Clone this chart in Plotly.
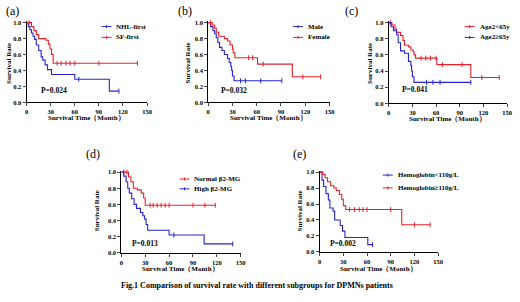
import numpy as np
import plotly.graph_objects as go

# ---------------- data ----------------
# Panel (a)
a_nhl_t = [0, 2, 4, 6, 8, 10, 12, 15, 18, 20, 23, 26, 31, 60, 103, 115]
a_nhl_s = [1.0, 0.95, 0.91, 0.87, 0.83, 0.79, 0.72, 0.65, 0.57, 0.53, 0.47, 0.41, 0.35, 0.29, 0.14, 0.14]
a_nhl_c = [65, 115]
a_sf_t = [0, 6, 9, 12, 15, 24, 27, 29, 31, 33, 138]
a_sf_s = [1.0, 0.95, 0.90, 0.85, 0.80, 0.78, 0.73, 0.67, 0.60, 0.49, 0.49]
a_sf_c = [3, 38, 43, 49, 54, 60, 90, 138]
# Panel (b)
b_m_t = [0, 3, 6, 8, 10, 12, 14, 17, 20, 24, 26, 28, 29, 30, 32, 91]
b_m_s = [1.0, 0.95, 0.90, 0.86, 0.81, 0.75, 0.69, 0.65, 0.60, 0.55, 0.50, 0.45, 0.40, 0.33, 0.27, 0.27]
b_m_c = [40, 46, 65, 91]
b_f_t = [0, 5, 8, 10, 13, 20, 24, 27, 30, 31, 33, 61, 104, 139]
b_f_s = [1.0, 0.97, 0.93, 0.88, 0.83, 0.80, 0.77, 0.72, 0.67, 0.62, 0.56, 0.48, 0.32, 0.32]
b_f_c = [3, 50, 55, 68, 117, 139]
# Panel (c)
c_y_t = [0, 4, 8, 10, 15, 18, 20, 25, 28, 31, 32, 34, 61, 104, 140]
c_y_s = [1.0, 0.97, 0.92, 0.88, 0.84, 0.78, 0.72, 0.70, 0.66, 0.64, 0.60, 0.56, 0.48, 0.32, 0.32]
c_y_c = [2, 41, 47, 53, 60, 68, 93, 118, 140]
c_o_t = [0, 3, 6, 10, 12, 15, 20, 25, 28, 29, 30, 32, 104]
c_o_s = [1.0, 0.95, 0.90, 0.85, 0.75, 0.65, 0.62, 0.52, 0.47, 0.40, 0.33, 0.26, 0.26]
c_o_c = [48, 56, 65, 104]
# Panel (d)
d_n_t = [0, 9, 12, 15, 20, 25, 28, 30, 118]
d_n_s = [1.0, 0.94, 0.88, 0.80, 0.78, 0.74, 0.68, 0.59, 0.59]
d_n_c = [3, 7, 36, 40, 45, 50, 55, 60, 90, 105, 118]
d_h_t = [0, 3, 6, 8, 10, 13, 16, 19, 24, 27, 29, 31, 33, 60, 104, 140]
d_h_s = [1.0, 0.95, 0.88, 0.80, 0.74, 0.67, 0.60, 0.55, 0.50, 0.46, 0.42, 0.35, 0.28, 0.22, 0.11, 0.11]
d_h_c = [66, 140]
# Panel (e)
e_l_t = [0, 3, 5, 8, 11, 13, 17, 19, 26, 29, 32, 61, 67]
e_l_s = [1.0, 0.90, 0.82, 0.73, 0.65, 0.55, 0.51, 0.40, 0.33, 0.26, 0.18, 0.09, 0.09]
e_l_c = [67]
e_h_t = [0, 4, 7, 10, 14, 18, 21, 25, 28, 30, 33, 104, 140]
e_h_s = [1.0, 0.97, 0.93, 0.88, 0.83, 0.80, 0.77, 0.72, 0.66, 0.58, 0.53, 0.34, 0.34]
e_h_c = [38, 44, 50, 55, 60, 90, 120, 140]

x_ticks = [0, 30, 60, 90, 120, 150]
y_ticks = [0.0, 0.2, 0.4, 0.6, 0.8, 1.0]

RED = "#e8202a"
BLUE = "#2424d4"
SERIF = "Liberation Serif"
W, H = 520, 302

panels = [
    dict(box=(25, 147, 21, 102), label="(a)", lab=(2, 9), p="P=0.024", pxy=(15, 0.15),
         ytitle=(7, 62), xtitle=(86, 118),
         curves=[("NHL-first", BLUE, a_nhl_t, a_nhl_s, a_nhl_c),
                 ("SF-first", RED, a_sf_t, a_sf_s, a_sf_c)],
         leg=(101, 25, 36)),
    dict(box=(209, 332, 21, 102), label="(b)", lab=(176, 9), p="P=0.032", pxy=(13, 0.15),
         ytitle=(189, 62), xtitle=(270, 118),
         curves=[("Male", BLUE, b_m_t, b_m_s, b_m_c),
                 ("Female", RED, b_f_t, b_f_s, b_f_c)],
         leg=(295, 25, 36)),
    dict(box=(392, 512, 21, 103), label="(c)", lab=(346, 9), p="P=0.041", pxy=(14, 0.17),
         ytitle=(373, 62), xtitle=(452, 119),
         curves=[("Age2<65y", RED, c_y_t, c_y_s, c_y_c),
                 ("Age2≥65y", BLUE, c_o_t, c_o_s, c_o_c)],
         leg=(469, 25, 36)),
    dict(box=(121, 242, 173, 255), label="(d)", lab=(83, 155), p="P=0.013", pxy=(11, 0.11),
         ytitle=(97, 212), xtitle=(181, 272),
         curves=[("Normal β2-MG", RED, d_n_t, d_n_s, d_n_c),
                 ("High β2-MG", BLUE, d_h_t, d_h_s, d_h_c)],
         leg=(180, 180, 190)),
    dict(box=(322, 442, 173, 254), label="(e)", lab=(293, 155), p="P=0.002", pxy=(10, 0.11),
         ytitle=(303, 212), xtitle=(382, 272),
         curves=[("Hemoglobin<110g/L", BLUE, e_l_t, e_l_s, e_l_c),
                 ("Hemoglobin≥110g/L", RED, e_h_t, e_h_s, e_h_c)],
         leg=(386, 176, 189)),
]

YMAX = 1.02
fig = go.Figure()
annotations = []
shapes = []

def fx(px):
    return px / W

def fy(py):
    return 1 - py / H

for i, pn in enumerate(panels, start=1):
    x0, x150, y1, y0 = pn["box"]
    ytop = y0 - (y0 - y1) * YMAX
    xa = "x" if i == 1 else f"x{i}"
    ya = "y" if i == 1 else f"y{i}"
    fig.layout[f"xaxis{'' if i == 1 else i}"] = dict(
        domain=[fx(x0), fx(x150)], range=[0, 150], anchor=ya,
        tickvals=x_ticks, ticks="outside", ticklen=3, tickwidth=1,
        showline=True, linecolor="black", linewidth=1, showgrid=False, zeroline=False,
        tickfont=dict(family=SERIF, size=6.5, color="black", weight="bold"))
    fig.layout[f"yaxis{'' if i == 1 else i}"] = dict(
        domain=[fy(y0), fy(ytop)], range=[0, YMAX], anchor=xa,
        tickvals=y_ticks, tickformat=".1f", ticks="outside", ticklen=3, tickwidth=1,
        showline=True, linecolor="black", linewidth=1, showgrid=False, zeroline=False,
        tickfont=dict(family=SERIF, size=6.5, color="black", weight="bold"))
    for name, col, t, s, c in pn["curves"]:
        fig.add_trace(go.Scatter(x=t, y=s, mode="lines", line=dict(color=col, width=1.1, shape="hv"),
                                 xaxis=xa, yaxis=ya, showlegend=False, name=name))
        cy = [s[int(np.searchsorted(t, ci, side="right")) - 1] for ci in c]
        fig.add_trace(go.Scatter(x=c, y=cy, mode="markers", cliponaxis=False,
                                 marker=dict(symbol="line-ns", size=3.5, line=dict(color=col, width=1)),
                                 xaxis=xa, yaxis=ya, showlegend=False))
    annotations.append(dict(x=pn["pxy"][0], y=pn["pxy"][1], xref=xa, yref=ya, text=pn["p"],
                            showarrow=False, xanchor="left", yanchor="middle",
                            font=dict(family=SERIF, size=7.5, color="black", weight="bold")))
    annotations.append(dict(x=fx(pn["lab"][0]), y=fy(pn["lab"][1]), xref="paper", yref="paper",
                            text=pn["label"], showarrow=False, xanchor="left", yanchor="middle",
                            font=dict(family=SERIF, size=12, color="black")))
    annotations.append(dict(x=fx(pn["ytitle"][0]), y=fy(pn["ytitle"][1]), xref="paper", yref="paper",
                            text="Survival Rate", textangle=-90, showarrow=False,
                            xanchor="center", yanchor="middle",
                            font=dict(family=SERIF, size=7, color="black", weight="bold")))
    annotations.append(dict(x=fx(pn["xtitle"][0]), y=fy(pn["xtitle"][1]), xref="paper", yref="paper",
                            text="Survival Time（Month）", showarrow=False,
                            xanchor="center", yanchor="middle",
                            font=dict(family=SERIF, size=7, color="black", weight="bold")))
    lx, ly1, ly2 = pn["leg"]
    for (name, col, *_), ly in zip(pn["curves"], (ly1, ly2)):
        shapes.append(dict(type="line", xref="paper", yref="paper", x0=fx(lx), x1=fx(lx + 10),
                           y0=fy(ly), y1=fy(ly), line=dict(color=col, width=1)))
        shapes.append(dict(type="line", xref="paper", yref="paper", x0=fx(lx + 5), x1=fx(lx + 5),
                           y0=fy(ly + 1.5), y1=fy(ly - 1.5), line=dict(color=col, width=1)))
        annotations.append(dict(x=fx(lx + 13), y=fy(ly), xref="paper", yref="paper", text=name,
                                showarrow=False, xanchor="left", yanchor="middle",
                                font=dict(family=SERIF, size=7, color="black", weight="bold")))

annotations.append(dict(x=fx(258), y=fy(288), xref="paper", yref="paper",
                        text="Fig.1 Comparison of survival rate with different subgroups for DPMNs patients",
                        showarrow=False, xanchor="center", yanchor="middle",
                        font=dict(family=SERIF, size=8, color="black", weight="bold")))

fig.update_layout(width=W, height=H, margin=dict(l=0, r=0, t=0, b=0),
                  paper_bgcolor="white", plot_bgcolor="white",
                  annotations=annotations, shapes=shapes, showlegend=False)
fig.write_html("out.html", config={"displayModeBar": False},
               post_script="document.body.style.margin='0';document.body.style.overflow='hidden';")
